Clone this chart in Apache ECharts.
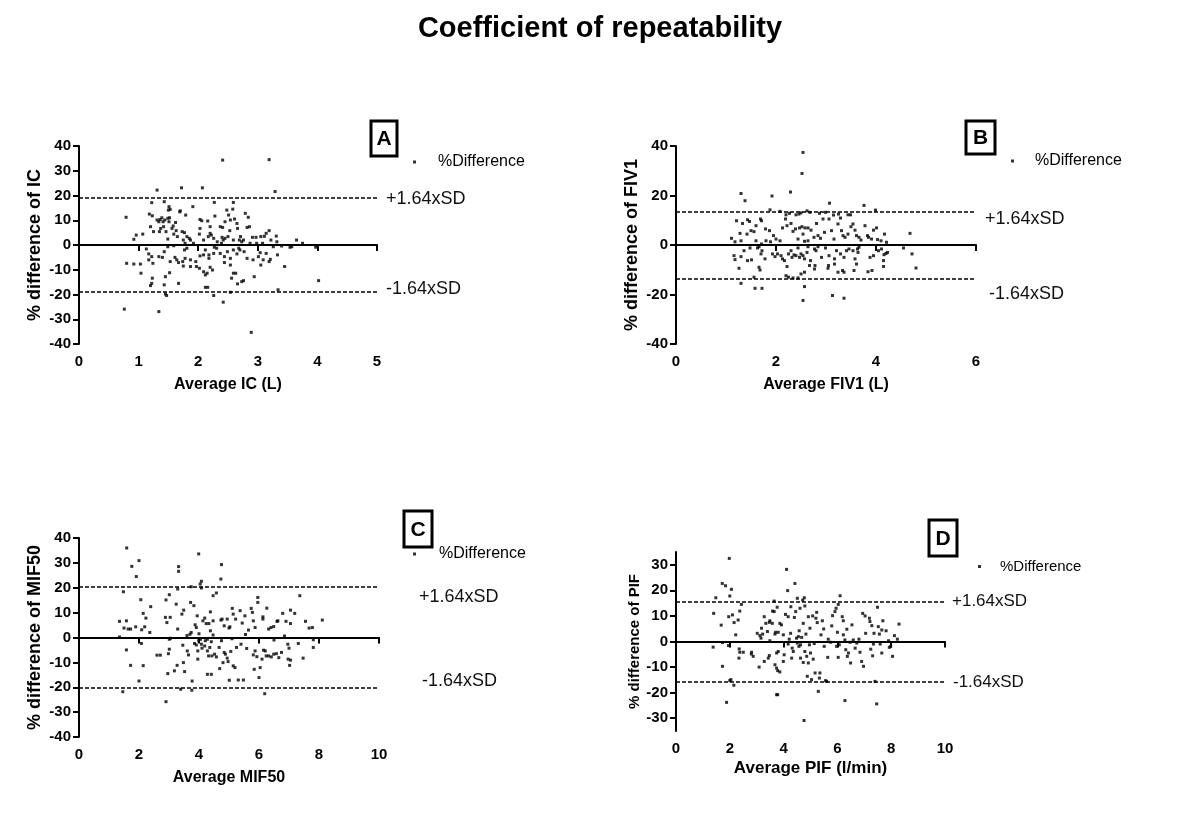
<!DOCTYPE html>
<html>
<head>
<meta charset="utf-8">
<script src="https://cdn.jsdelivr.net/npm/echarts@6/dist/echarts.min.js"></script>
<style>
  html, body { margin: 0; padding: 0; background: #fff; }
  #chart { width: 1200px; height: 840px; }
</style>
</head>
<body>
<div id="chart"></div>
<script>
// [average, % difference]
const icPoints = [
  [2.41,34.3],[3.19,34.5],[1.31,22.2],[1.72,23.1],[2.07,23.1],[3.29,21.6],[1.22,17.1],[1.43,17.5],[1.51,15.5],[1.53,14.4],[1.50,14.1],[1.70,13.8],[1.69,13.4],[1.79,12.1],[1.91,15.5],[2.27,17.2],[2.59,17.2],[2.48,14.1],[2.58,14.5],[2.51,12.1],[2.79,12.8],[2.84,11.2],
  [0.79,11.2],[1.18,12.5],[1.23,11.8],[1.31,10.1],[1.34,9.4],[1.36,10.3],[1.39,11.0],[1.41,9.4],[1.44,10.1],[1.49,10.8],[1.52,11.0],[1.51,9.4],[1.58,7.7],[1.62,9.1],[1.37,6.7],[1.42,7.4],[1.46,5.4],[1.63,5.8],[1.56,6.7],
  [2.03,10.3],[2.06,9.8],[2.16,9.7],[2.20,7.4],[2.28,11.7],[2.37,7.4],[2.41,7.1],[2.45,9.4],[2.54,10.1],[2.61,10.5],[2.65,8.7],[2.66,6.7],[2.53,5.8],[2.82,7.1],[2.86,7.4],[2.91,3.1],[2.97,3.1],[3.05,3.4],[3.11,3.5],[3.14,4.7],[3.19,5.8],[3.31,3.6],
  [0.92,2.3],[0.96,4.0],[1.07,4.4],[1.20,7.4],[1.25,5.4],[1.35,5.4],[1.49,2.4],[1.59,4.4],[1.65,3.4],[1.73,5.4],[1.77,5.0],[1.81,3.4],[1.85,2.7],[1.75,2.0],[1.87,2.0],[1.92,0.7],[1.78,0.7],[2.03,6.7],[2.02,4.4],[2.09,2.0],[2.17,3.4],[2.20,4.7],[2.22,4.0],[2.26,2.7],[2.32,1.3],[2.40,3.1],[2.42,2.0],[2.45,2.7],[2.50,3.4],[2.39,0.7],[2.59,2.0],[2.69,2.0],[2.71,3.4],[2.73,1.3],[2.76,2.0],[2.87,0.7],[2.98,0.7],[3.08,0.7],[3.22,2.0],[3.32,1.3],[3.65,2.0],[3.75,0.7],
  [1.13,-1.6],[1.17,-3.6],[1.22,-4.7],[1.34,-4.7],[1.40,-5.0],[1.43,-2.7],[1.49,-0.7],[1.59,-0.3],[1.61,-5.0],[1.64,-6.0],[1.77,-2.0],[1.81,-1.3],[1.78,-5.4],[1.87,-6.0],[1.96,-6.7],[2.03,-4.4],[2.09,-4.0],[2.12,-2.0],[2.18,-4.0],[2.18,-5.4],[2.26,-3.4],[2.27,-0.9],[2.31,-1.3],[2.37,-3.4],[2.44,-4.7],[2.49,-2.7],[2.54,-5.4],[2.59,-2.0],[2.65,-3.6],[2.68,-1.3],[2.70,-2.0],[2.77,-2.7],[2.82,-5.4],[2.92,-6.0],[3.01,-4.7],[3.04,-3.1],[3.09,-6.0],[3.14,-3.4],[3.19,-6.7],[3.26,-0.7],[3.33,-4.0],[3.40,-0.4],[3.54,-0.9],[3.57,-0.7],[3.97,-0.9],
  [0.80,-7.4],[0.92,-7.7],[1.03,-7.7],[1.24,-7.4],[1.17,-6.0],[1.53,-6.7],[1.67,-7.1],[1.74,-6.7],[1.75,-8.5],[1.87,-8.7],[1.97,-8.7],[2.02,-9.4],[2.09,-10.8],[2.12,-12.1],[2.15,-11.4],[2.20,-9.0],[2.24,-10.1],[2.44,-7.1],[2.54,-8.1],[2.59,-11.4],[2.63,-11.4],[2.94,-12.8],[3.05,-8.1],[3.21,-5.8],[3.45,-8.7],
  [1.04,-11.4],[1.23,-13.4],[1.22,-15.5],[1.20,-16.4],[1.45,-12.8],[1.43,-16.1],[1.52,-11.2],[1.67,-15.5],[2.12,-17.1],[2.16,-17.1],[2.56,-13.4],[2.66,-15.7],[2.73,-14.8],[2.76,-14.4],[3.34,-18.1],[4.02,-14.4],[1.45,-19.8],[1.47,-20.4],[2.26,-20.4],[2.54,-19.1],[0.76,-25.9],[1.34,-26.9],[2.42,-23.1],[2.89,-35.3]
]
const fiv1Points = [
  [2.54,37.4],[2.52,28.9],[1.30,20.8],[1.38,17.9],[1.92,19.8],[2.29,21.4],[3.07,16.9],[3.76,16.0],[3.99,14.1],[1.88,14.2],[2.08,13.6],[2.20,12.2],[2.27,12.8],[2.40,12.2],[2.46,12.5],[2.50,13.0],[2.62,13.8],[2.68,13.2],[2.87,12.8],[2.99,13.2],[3.15,12.1],[3.25,12.5],[3.44,12.2],[3.49,12.2],
  [1.21,9.8],[1.33,8.7],[1.43,10.2],[1.47,9.5],[1.69,10.5],[1.71,9.8],[1.56,5.4],[1.60,7.8],[1.79,6.5],[1.87,5.8],[1.28,4.7],[1.42,4.4],[1.50,5.8],[1.11,2.7],[1.18,1.3],[1.30,1.7],
  [1.95,3.8],[2.00,2.4],[2.08,1.7],[2.13,6.9],[2.19,10.5],[2.22,7.8],[2.30,8.7],[2.34,5.5],[2.39,6.5],[2.47,6.9],[2.52,7.4],[2.58,6.9],[2.64,6.9],[2.70,6.0],[2.54,4.4],[2.44,2.4],[2.57,1.5],[2.64,1.7],[2.76,3.1],[2.81,8.7],[2.84,3.8],[2.89,2.7],[2.94,10.5],[2.97,5.1],[3.06,10.5],[3.11,5.8],[3.16,2.4],[3.24,8.5],[3.29,10.9],[3.31,5.8],[3.34,3.8],[3.38,3.1],[3.44,4.4],[3.50,7.4],[3.54,8.5],[3.58,6.0],[3.61,3.8],[3.66,3.1],[3.70,2.0],[3.78,7.8],[3.83,3.8],[3.85,3.1],[3.91,2.4],[3.95,6.0],[4.01,6.9],[4.03,2.2],[4.10,1.7],[4.17,4.4],[4.21,1.1],[4.68,4.7],[1.71,0.4],[1.80,1.7],[1.89,1.3],[1.60,1.7],
  [1.63,-1.2],[1.48,-1.2],[1.36,-2.3],[1.16,-4.3],[1.18,-5.9],[1.30,-4.7],[1.43,-6.3],[1.51,-6.0],[1.66,-0.7],[1.72,-2.3],[1.70,-3.6],[1.78,-5.6],[1.93,-3.6],[1.98,-4.7],[2.03,-3.6],[2.10,-4.3],[2.13,-5.6],[2.17,-6.3],[2.25,-3.6],[2.30,-2.3],[2.32,-5.0],[2.36,-4.0],[2.40,-4.3],[2.44,-1.2],[2.47,-5.0],[2.50,-3.6],[2.54,-4.3],[2.57,-5.6],[2.62,-3.0],[2.64,-0.7],[2.69,-6.3],[2.77,-1.6],[2.80,-2.3],[2.84,-0.7],[2.91,-5.0],[2.99,-1.2],[3.06,-4.3],[3.17,-5.6],[3.21,-2.3],[3.29,-3.6],[3.36,-5.0],[3.41,-2.3],[3.46,-1.6],[3.54,-2.3],[3.58,-5.6],[3.63,-1.6],[3.64,-3.0],[3.66,-0.9],[3.88,-5.0],[3.95,-4.3],[4.05,-2.3],[4.11,-1.6],[4.16,-3.9],[4.20,-3.4],[4.23,-3.0],[4.55,-1.2],[4.72,-3.6],[4.80,-9.3],
  [1.26,-9.4],[1.30,-15.5],[1.56,-13.0],[1.58,-17.5],[1.72,-17.5],[1.66,-9.0],[1.68,-10.1],[2.20,-12.4],[2.25,-13.0],[2.34,-13.3],[2.44,-13.3],[2.50,-11.7],[2.57,-11.0],[2.22,-8.7],[2.67,-8.3],[2.77,-9.7],[2.78,-8.3],[3.04,-9.4],[3.05,-8.3],[3.17,-7.7],[3.24,-11.0],[3.33,-10.3],[3.36,-11.0],[3.56,-10.3],[3.61,-7.7],[3.84,-10.8],[3.92,-10.3],[2.57,-16.8],[2.54,-22.4],[3.13,-20.4],[3.36,-21.5],[4.15,-8.7],[4.15,-6.3]
]
const mif50Points = [
  [1.59,36.0],[1.76,28.6],[2.00,30.9],[1.91,24.5],[3.99,33.6],[3.32,28.5],[3.32,26.6],[4.75,29.3],[4.73,23.5],[1.48,18.4],[2.06,15.2],[3.29,19.5],[3.74,20.4],[4.04,21.5],[4.08,22.6],[4.08,19.9],[4.58,17.9],[4.47,16.8],[2.90,15.1],[3.01,17.2],[3.24,13.4],[7.36,16.8],[5.96,16.1],[5.96,14.1],
  [2.39,12.4],[2.14,9.7],[2.23,7.8],[2.36,2.0],[1.35,6.5],[1.58,6.7],[1.50,3.8],[1.64,3.4],[1.72,3.4],[1.89,4.3],[2.09,3.1],[2.19,4.3],[2.88,8.1],[2.93,6.0],[3.04,8.1],[3.29,3.4],[3.43,9.4],[3.49,11.0],[3.72,14.1],[3.83,12.8],[3.87,5.1],[3.91,4.0],[3.94,8.7],[4.13,6.7],[4.19,7.8],[4.24,5.6],[4.33,5.6],[4.38,10.3],[4.38,2.7],[4.47,6.7],[4.73,7.0],[4.77,7.4],[4.84,4.7],[4.94,7.4],[5.00,3.8],[5.03,4.3],[5.11,11.7],[5.14,9.4],[5.22,7.4],[5.37,10.8],[5.44,5.8],[5.53,8.7],[5.65,3.0],[5.74,11.7],[5.78,10.1],[5.81,6.7],[5.87,4.0],[6.13,8.3],[6.13,7.4],[6.26,11.8],[6.32,3.4],[6.40,4.0],[6.49,4.4],[6.60,6.5],[6.63,6.7],[6.79,9.7],[6.90,6.5],[7.05,11.0],[7.05,5.6],[7.19,9.7],[7.55,6.5],[7.67,3.8],[7.78,4.0],[8.11,7.0],
  [1.35,0.2],[3.60,0.8],[3.70,1.3],[4.47,1.0],[5.10,-0.5],[5.55,1.2],[6.50,-1.0],[6.85,0.6],[4.00,1.5],
  [2.08,-2.4],[1.58,-5.0],[1.72,-11.2],[2.14,-11.3],[2.00,-17.5],[2.60,-7.1],[2.71,-7.1],[3.01,-0.7],[3.05,-0.3],[3.01,-4.7],[2.98,-6.5],[3.27,-11.2],[3.18,-13.4],[2.96,-14.5],[3.48,-10.1],[3.52,-13.7],[3.46,-3.1],[3.61,-5.4],[3.65,-7.0],[3.74,2.0],[3.85,-2.4],[3.91,-3.0],[3.96,-5.4],[3.99,-1.3],[4.05,-0.7],[4.08,-2.7],[4.10,-4.3],[4.19,-3.4],[4.21,-1.3],[4.28,-0.7],[4.28,-5.4],[4.36,-4.0],[4.41,-1.7],[4.32,-7.4],[4.43,-7.4],[4.52,-6.7],[4.58,-7.8],[4.67,-4.0],[4.75,-1.3],[4.69,-12.5],[4.80,-10.1],[4.84,-6.0],[4.88,-6.7],[4.94,-8.3],[4.97,-9.7],[5.06,-5.6],[5.14,-11.4],[5.20,-12.1],
  [4.28,-14.8],[4.41,-14.8],[5.01,-17.2],[5.31,-17.1],[5.48,-17.1],[5.25,-4.0],[5.40,-2.7],[5.59,-4.4],[5.81,-7.0],[5.87,-5.4],[5.93,-7.7],[5.84,-12.8],[6.00,-16.1],[6.04,-12.1],[6.10,-8.7],[6.15,-5.1],[6.21,-5.4],[6.24,-7.4],[6.32,-7.4],[6.41,-7.8],[6.49,-6.7],[6.58,-6.5],[6.66,-8.1],[6.75,-6.0],[6.96,-2.7],[7.00,-4.3],[6.97,-8.7],[7.05,-9.1],[7.02,-11.2],[7.31,-2.4],[7.47,-8.3],[7.81,-0.9],[7.81,-4.0],
  [6.19,-22.6],[2.90,-25.8],[1.46,-21.8],[3.39,-20.8],[3.76,-21.2],[3.77,-17.5],[3.96,-8.7]
]
const pifPoints = [
  [1.98,32.5],[1.72,22.7],[1.84,21.8],[2.06,20.4],[2.00,17.8],[1.48,17.1],[1.40,11.0],[1.68,6.4],[1.96,9.7],[2.10,10.4],[2.16,7.4],[2.31,8.4],[2.37,11.9],[2.43,14.5],[2.22,2.6],[1.38,-2.2],[1.73,-0.4],[1.95,-1.6],[1.73,-9.7],[1.88,-23.8],[2.00,-15.3],[2.04,-14.9],[2.15,-17.1],[2.35,-2.9],[2.37,-4.2],[2.50,-4.2],[2.34,-6.5],[2.81,-4.2],[2.87,-5.8],[3.09,-10.0],
  [3.12,2.3],[3.18,5.2],[3.22,2.9],[3.28,9.7],[3.34,7.1],[3.47,7.5],[3.49,8.1],[3.58,7.1],[3.28,-7.8],[3.43,-6.5],[3.49,0.3],[3.47,-5.5],[3.59,11.9],[3.65,11.7],[3.68,2.9],[3.70,3.6],[3.76,13.4],[3.65,15.8],[3.80,3.6],[3.74,-4.5],[3.80,-3.9],[3.68,-9.1],[3.74,-10.4],[3.78,-11.4],[3.86,-11.9],[3.74,-20.8],[3.78,-20.8],[3.92,6.5],[3.99,2.6],[3.99,-7.8],[4.02,-5.2],
  [4.07,10.6],[4.11,28.2],[4.15,19.9],[4.17,9.7],[4.17,-1.0],[4.21,0.9],[4.26,3.2],[4.30,-6.5],[4.27,13.6],[4.32,-2.6],[4.36,-3.9],[4.40,9.4],[4.42,22.7],[4.45,11.7],[4.48,1.3],[4.51,-0.6],[4.51,16.9],[4.55,1.9],[4.57,-1.9],[4.58,4.2],[4.61,13.0],[4.63,-1.3],[4.63,-6.5],[4.67,1.6],[4.71,16.2],[4.73,7.1],[4.73,-8.2],[4.77,17.1],[4.79,13.9],[4.79,-3.9],[4.83,2.9],[4.86,-5.8],[4.88,-13.6],[4.92,9.7],[4.76,-30.9],[4.92,-8.4],[4.96,-1.3],[4.98,5.2],
  [5.00,-4.5],[5.04,-14.9],[5.08,10.0],[5.10,-6.9],[5.14,-0.8],[5.17,-12.3],[5.20,9.1],[5.23,11.4],[5.25,7.4],[5.29,-19.5],[5.33,-14.3],[5.35,-12.3],[5.39,2.6],[5.44,8.1],[5.49,4.9],[5.51,-1.9],[5.56,-15.3],[5.60,-15.6],[5.64,-6.2],[5.66,0.9],[5.75,-0.3],[5.79,6.1],[5.82,10.1],[5.91,11.7],[5.95,13.0],[5.97,-1.9],
  [6.00,3.6],[6.03,14.5],[6.03,-6.2],[6.07,-1.3],[6.10,17.9],[6.18,9.7],[6.22,8.1],[6.22,2.6],[6.28,0.6],[6.28,-23.1],[6.31,-3.2],[6.35,4.8],[6.37,-5.8],[6.41,-4.5],[6.47,-0.3],[6.49,-8.4],[6.54,6.5],[6.59,0.6],[6.66,-2.6],[6.72,-0.6],[6.80,0.9],[6.84,-4.2],[6.94,11.0],[6.90,-7.8],[6.97,-9.7],
  [7.03,10.0],[7.05,3.2],[7.19,9.1],[7.21,7.8],[7.24,-3.0],[7.28,6.2],[7.31,-5.6],[7.34,-1.0],[7.36,3.2],[7.40,-15.6],[7.46,-24.4],[7.49,13.4],[7.52,5.8],[7.56,2.9],[7.59,-1.0],[7.65,4.5],[7.65,-4.5],[7.69,8.1],[7.81,4.2],[7.90,0.3],[7.93,-2.3],[7.98,-1.9],[8.05,-5.8],[8.12,2.3],[8.23,0.9],[8.29,6.8],
  [3.02,3.2],[3.16,1.3],[3.40,3.9],[3.86,7.1],[2.80,-4.9]
]

// 1.64 x SD limits of each panel
const sdLimits = [18.9, 13.5, 20.3, 15.6]
const panelLetters = ['A', 'B', 'C', 'D']
const yNames = ['% difference of IC', '% difference of FIV1', '% difference of MIF50', '% difference of PIF']
const xNames = ['Average IC (L)', 'Average FIV1 (L)', 'Average MIF50', 'Average PIF (l/min)']
const xMax = [5, 6, 10, 10]
const xStep = [1, 2, 2, 2]
const yRange = [40, 40, 40, 35]
const yStep = [10, 20, 10, 10]
const pifTicks = [-30, -20, -10, 0, 10, 20, 30]

const FONT = '"Liberation Sans", Arial, sans-serif'

const chart = echarts.init(document.getElementById('chart'), null, { renderer: 'canvas' })

const grids = [
  { left: 79, top: 146, width: 298, height: 198 },
  { left: 676, top: 146, width: 300, height: 198 },
  { left: 79, top: 538, width: 300, height: 199 },
  { left: 676, top: 552, width: 269, height: 179 }
]

const axisLineStyle = { color: '#000', width: 2 }

const xAxes = xNames.map((name, i) => ({
  gridIndex: i,
  type: 'value',
  min: 0,
  max: xMax[i],
  interval: xStep[i],
  name: name,
  nameLocation: 'middle',
  nameGap: i === 3 ? 29 : 33,
  nameTextStyle: { color: '#000', fontWeight: 'bold', fontSize: i === 3 ? 17 : 16, fontFamily: FONT },
  axisLine: { lineStyle: axisLineStyle },
  axisTick: { length: 6, lineStyle: axisLineStyle },
  axisLabel: { color: '#000', fontWeight: 'bold', fontSize: 15, margin: 10, fontFamily: FONT },
  splitLine: { show: false }
}))

const yAxes = yNames.map((name, i) => {
  const ax = {
    gridIndex: i,
    type: 'value',
    min: -yRange[i],
    max: yRange[i],
    interval: yStep[i],
    name: name,
    nameLocation: 'middle',
    nameRotate: 90,
    nameGap: i === 3 ? 32 : 35,
    nameTextStyle: { color: '#000', fontWeight: 'bold', fontSize: i === 3 ? 15 : 18, fontFamily: FONT },
    axisLine: { onZero: false, lineStyle: axisLineStyle },
    axisTick: { length: 6, lineStyle: axisLineStyle },
    axisLabel: { color: '#000', fontWeight: 'bold', fontSize: 15, margin: 8, fontFamily: FONT },
    splitLine: { show: false }
  }
  if (i === 3) {
    delete ax.interval
    ax.axisTick.customValues = pifTicks
    ax.axisLabel.customValues = pifTicks
  }
  return ax
})

const allPoints = [icPoints, fiv1Points, mif50Points, pifPoints]

const series = allPoints.map((pts, i) => ({
  name: '%Difference',
  type: 'scatter',
  xAxisIndex: i,
  yAxisIndex: i,
  symbol: 'rect',
  symbolSize: 3,
  itemStyle: { color: '#000' },
  data: pts,
  markLine: {
    silent: true,
    symbol: 'none',
    animation: false,
    label: { show: false },
    lineStyle: { color: '#000', type: [4, 2], width: 1.6 },
    data: [
      { yAxis: 0, lineStyle: { type: 'solid', width: 2 } },
      { yAxis: sdLimits[i] },
      { yAxis: -sdLimits[i] }
    ]
  }
}))

// legends: dot + "%Difference"
const legendPos = [
  { left: 408, top: 149, pad: 17, size: 16 },
  { left: 1006, top: 148, pad: 16, size: 16 },
  { left: 408, top: 541, pad: 18, size: 16 },
  { left: 973, top: 554, pad: 14, size: 15 }
]
const legends = legendPos.map(p => ({
  left: p.left,
  top: p.top,
  orient: 'vertical',
  icon: 'rect',
  itemWidth: 3,
  itemHeight: 3,
  selectedMode: false,
  textStyle: { color: '#000', fontSize: p.size, fontFamily: FONT, padding: [0, 0, 0, p.pad] },
  data: ['%Difference']
}))

// panel boxes and SD labels
const boxes = [
  { x: 371, y: 121, w: 26, h: 35 },
  { x: 966, y: 121, w: 29, h: 33 },
  { x: 404, y: 511, w: 28, h: 36 },
  { x: 929, y: 520, w: 28, h: 36 }
]
const sdLabelPos = [
  { up: [386, 199], down: [386, 289], size: 18 },
  { up: [985, 219], down: [989, 294], size: 18 },
  { up: [419, 597], down: [422, 681], size: 18 },
  { up: [952, 601], down: [953, 682], size: 17 }
]

const graphic = []
boxes.forEach((b, i) => {
  graphic.push({
    type: 'rect',
    shape: { x: b.x, y: b.y, width: b.w, height: b.h },
    style: { fill: '#fff', stroke: '#000', lineWidth: 3 }
  })
  graphic.push({
    type: 'text',
    x: b.x + b.w / 2,
    y: b.y + b.h / 2 + 1,
    style: {
      text: panelLetters[i],
      fill: '#000',
      font: 'bold 21px ' + FONT,
      textAlign: 'center', align: 'center',
      textVerticalAlign: 'middle', verticalAlign: 'middle'
    }
  })
})
sdLabelPos.forEach(p => {
  [['+1.64xSD', p.up], ['-1.64xSD', p.down]].forEach(([txt, pos]) => {
    graphic.push({
      type: 'text',
      x: pos[0],
      y: pos[1],
      style: {
        text: txt,
        fill: '#111',
        font: p.size + 'px ' + FONT,
        textAlign: 'left', align: 'left',
        textVerticalAlign: 'middle', verticalAlign: 'middle'
      }
    })
  })
})

const option = {
  backgroundColor: '#fff',
  animation: false,
  title: {
    text: 'Coefficient of repeatability',
    left: 'center',
    top: 9,
    textStyle: { color: '#000', fontSize: 29, fontWeight: 'bold', fontFamily: FONT }
  },
  legend: legends,
  grid: grids,
  xAxis: xAxes,
  yAxis: yAxes,
  series: series,
  graphic: graphic
}
chart.setOption(option)
</script>
</body>
</html>
